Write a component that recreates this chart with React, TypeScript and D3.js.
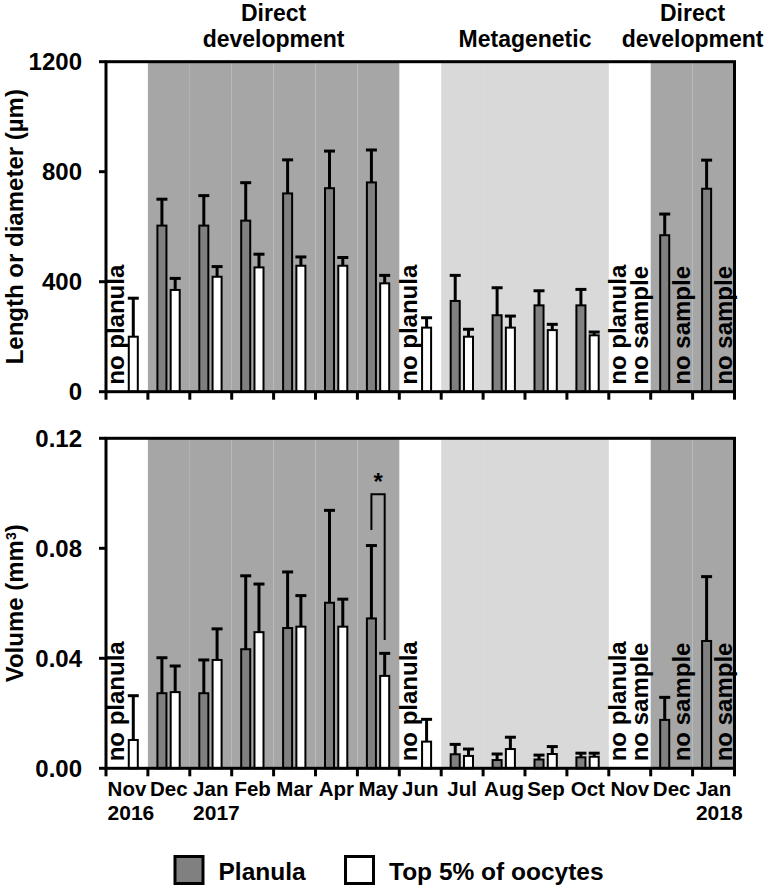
import React, { useEffect, useRef } from 'react';
import * as d3 from 'd3';

// ---------- data ----------
const months = ['Nov', 'Dec', 'Jan', 'Feb', 'Mar', 'Apr', 'May', 'Jun', 'Jul', 'Aug', 'Sep', 'Oct', 'Nov', 'Dec', 'Jan'];
const years = ['2016', '', '2017', '', '', '', '', '', '', '', '', '', '', '', '2018'];
// reproductive phase per month: '' none, 'D' direct development, 'M' metagenetic
const phases = ['', 'D', 'D', 'D', 'D', 'D', 'D', '', 'M', 'M', 'M', 'M', '', 'D', 'D'];
const phaseTitles = [
  { lines: ['Direct', 'development'], from: 1, to: 6 },
  { lines: ['Metagenetic'], from: 8, to: 11 },
  { lines: ['Direct', 'development'], from: 13, to: 14 },
];

// Length or diameter (µm)
const planulaLen = [null, 604, 604, 622, 721, 740, 761, null, 330, 278, 314, 314, null, 569, 738];
const planulaLenSD = [null, 96, 109, 138, 122, 135, 118, null, 93, 100, 53, 58, null, 77, 104];
const oocyteLen = [200, 370, 418, 452, 458, 458, 394, 233, 200, 233, 224, 205, null, null, null];
const oocyteLenSD = [140, 42, 37, 48, 32, 30, 29, 36, 27, 42, 21, 12, null, null, null];

// Volume (mm³)
const planulaVol = [null, 0.0273, 0.0273, 0.0433, 0.051, 0.0602, 0.0545, null, 0.0051, 0.003, 0.0032, 0.004, null, 0.0176, 0.0463];
const planulaVolSD = [null, 0.0129, 0.0121, 0.0267, 0.0204, 0.0336, 0.0265, null, 0.0036, 0.0022, 0.0016, 0.0015, null, 0.0082, 0.0234];
const oocyteVol = [0.0103, 0.0277, 0.0394, 0.0495, 0.0515, 0.0515, 0.0336, 0.0097, 0.0045, 0.007, 0.0052, 0.0042, null, null, null];
const oocyteVolSD = [0.0161, 0.0095, 0.0113, 0.0175, 0.0113, 0.01, 0.0082, 0.0081, 0.0025, 0.0043, 0.0027, 0.0013, null, null, null];

// notes for missing values
const planulaNotes = ['no planula', '', '', '', '', '', '', 'no planula', '', '', '', '', 'no planula', '', ''];
const oocyteNotes = ['', '', '', '', '', '', '', '', '', '', '', '', 'no sample', 'no sample', 'no sample'];

// significance bracket (bottom panel): month index, bracket top, left leg bottom, right leg bottom
const sigMonth = 6;
const sigTop = 0.0997;
const sigLeft = 0.0867;
const sigRight = 0.0467;

const seriesNames = ['Planula', 'Top 5% of oocytes'];

// ---------- style ----------
const W = 770;
const H = 887;
const FONT = '"Liberation Sans", Arial, Helvetica, sans-serif';
const DARK = '#a6a6a6';
const LIGHT = '#d9d9d9';
const BAR = '#808080';

export default function App() {
  const ref = useRef<SVGSVGElement>(null);

  useEffect(() => {
    const svg = d3.select(ref.current);
    svg.selectAll('*').remove();
    const root = svg.append('g').attr('font-family', FONT).attr('font-weight', 'bold').attr('fill', '#000');

    const x = d3.scaleBand<number>().domain(d3.range(months.length)).range([106, 734.5]).padding(0);
    const bw = x.bandwidth();
    const sub = d3.scaleBand<string>().domain(['planula', 'oocyte']).range([9.5, 31.8]).paddingInner(0.32);
    const sw = sub.bandwidth();

    const panels = [
      {
        top: 61.7, bottom: 391.7, max: 1200, ticks: [0, 400, 800, 1200], fmt: d3.format('d'),
        pl: planulaLen, plSD: planulaLenSD, oo: oocyteLen, ooSD: oocyteLenSD, label: 'len',
      },
      {
        top: 438.3, bottom: 768.3, max: 0.12, ticks: [0, 0.04, 0.08, 0.12], fmt: d3.format('.2f'),
        pl: planulaVol, plSD: planulaVolSD, oo: oocyteVol, ooSD: oocyteVolSD, label: 'vol',
      },
    ];

    panels.forEach((p, pi) => {
      const y = d3.scaleLinear().domain([0, p.max]).range([p.bottom, p.top]);
      const g = root.append('g');

      // shading bands
      months.forEach((_, i) => {
        if (!phases[i]) return;
        g.append('rect')
          .attr('x', x(i)!).attr('y', p.top)
          .attr('width', bw).attr('height', p.bottom - p.top)
          .attr('fill', phases[i] === 'D' ? DARK : LIGHT);
      });

      // bars
      const series = [
        { key: 'planula', vals: p.pl, sds: p.plSD, fill: BAR },
        { key: 'oocyte', vals: p.oo, sds: p.ooSD, fill: '#fff' },
      ];
      series.forEach((s) => {
        s.vals.forEach((v, i) => {
          if (v == null) return;
          const bx = x(i)! + sub(s.key)!;
          g.append('rect')
            .attr('x', bx).attr('y', y(v))
            .attr('width', sw).attr('height', p.bottom - y(v))
            .attr('fill', s.fill).attr('stroke', '#000').attr('stroke-width', 2);
        });
      });
      // error bars
      series.forEach((s) => {
        s.vals.forEach((v, i) => {
          const sd = s.sds[i];
          if (v == null || sd == null) return;
          const cx = x(i)! + sub(s.key)! + sw / 2;
          g.append('line')
            .attr('x1', cx).attr('x2', cx).attr('y1', y(v)).attr('y2', y(v + sd))
            .attr('stroke', '#000').attr('stroke-width', 3);
          g.append('line')
            .attr('x1', cx - 5.5).attr('x2', cx + 5.5).attr('y1', y(v + sd)).attr('y2', y(v + sd))
            .attr('stroke', '#000').attr('stroke-width', 3);
        });
      });

      // notes
      const addNote = (txt: string, bx: number) => {
        g.append('text')
          .attr('transform', `translate(${bx},${p.bottom - 7}) rotate(-90)`)
          .attr('font-size', 24).attr('text-anchor', 'start')
          .text(txt);
      };
      planulaNotes.forEach((t, i) => { if (t) addNote(t, x(i)! + 17.5); });
      oocyteNotes.forEach((t, i) => { if (t) addNote(t, x(i)! + 39); });

      // significance bracket
      if (pi === 1) {
        const lx = x(sigMonth)! + sub('planula')! + sw / 2;
        const rx = x(sigMonth)! + sub('oocyte')! + sw / 2;
        g.append('path')
          .attr('d', `M${lx},${y(sigLeft)}V${y(sigTop)}H${rx}V${y(sigRight)}`)
          .attr('fill', 'none').attr('stroke', '#000').attr('stroke-width', 2);
        g.append('text')
          .attr('x', (lx + rx) / 2).attr('y', y(sigTop) - 4)
          .attr('text-anchor', 'middle').attr('font-size', 24).text('*');
      }

      // frame
      const x0 = x.range()[0];
      const x1 = x.range()[1];
      g.append('rect')
        .attr('x', x0).attr('y', p.top).attr('width', x1 - x0).attr('height', p.bottom - p.top)
        .attr('fill', 'none').attr('stroke', '#000').attr('stroke-width', 3);

      // x ticks at band boundaries
      d3.range(months.length + 1).forEach((i) => {
        const tx = x0 + i * bw;
        g.append('line')
          .attr('x1', tx).attr('x2', tx).attr('y1', p.bottom).attr('y2', p.bottom + 8)
          .attr('stroke', '#000').attr('stroke-width', 3);
      });

      // y ticks
      p.ticks.forEach((t) => {
        g.append('line')
          .attr('x1', x0 - 7).attr('x2', x0).attr('y1', y(t)).attr('y2', y(t))
          .attr('stroke', '#000').attr('stroke-width', 3);
        g.append('text')
          .attr('x', 82).attr('y', y(t)).attr('dy', '0.36em')
          .attr('text-anchor', 'end').attr('font-size', 24)
          .text(p.fmt(t));
      });

      // y label
      const cy = (p.top + p.bottom) / 2;
      const yl = g.append('text')
        .attr('transform', `translate(23,${cy}) rotate(-90)`)
        .attr('text-anchor', 'middle').attr('font-size', 24);
      if (p.label === 'len') {
        yl.text('Length or diameter (µm)');
      } else {
        yl.append('tspan').text('Volume (mm');
        yl.append('tspan').attr('font-size', 14).attr('dy', -7).text('3');
        yl.append('tspan').attr('dy', 7).text(')');
      }

      // month labels on bottom panel
      if (pi === 1) {
        months.forEach((m, i) => {
          const cx = x(i)! + bw / 2;
          const t = g.append('text')
            .attr('x', cx).attr('y', p.bottom + 28)
            .attr('text-anchor', 'middle').attr('font-size', 20.5)
            .text(m);
          if (years[i]) {
            const w = (t.node() as SVGTextElement).getComputedTextLength();
            g.append('text')
              .attr('x', cx - w / 2).attr('y', p.bottom + 52)
              .attr('text-anchor', 'start').attr('font-size', 21)
              .text(years[i]);
          }
        });
      }
    });

    // phase titles
    phaseTitles.forEach((pt) => {
      const cx = (x(pt.from)! + x(pt.to)! + bw) / 2;
      const baselines = pt.lines.length === 2 ? [21, 47] : [47];
      pt.lines.forEach((ln, k) => {
        root.append('text')
          .attr('x', cx).attr('y', baselines[k])
          .attr('text-anchor', 'middle').attr('font-size', 23)
          .text(ln);
      });
    });

    // legend
    const legendX = [175, 345.5];
    const legendFill = [BAR, '#fff'];
    seriesNames.forEach((nm, i) => {
      root.append('rect')
        .attr('x', legendX[i]).attr('y', 856.5).attr('width', 28).attr('height', 27)
        .attr('fill', legendFill[i]).attr('stroke', '#000').attr('stroke-width', 3);
      root.append('text')
        .attr('x', legendX[i] + 43.5).attr('y', 880)
        .attr('font-size', 24.5).text(nm);
    });
  }, []);

  return (
    <svg
      ref={ref}
      width={W}
      height={H}
      style={{ position: 'absolute', left: 0, top: 0, background: '#fff', display: 'block' }}
    />
  );
}
